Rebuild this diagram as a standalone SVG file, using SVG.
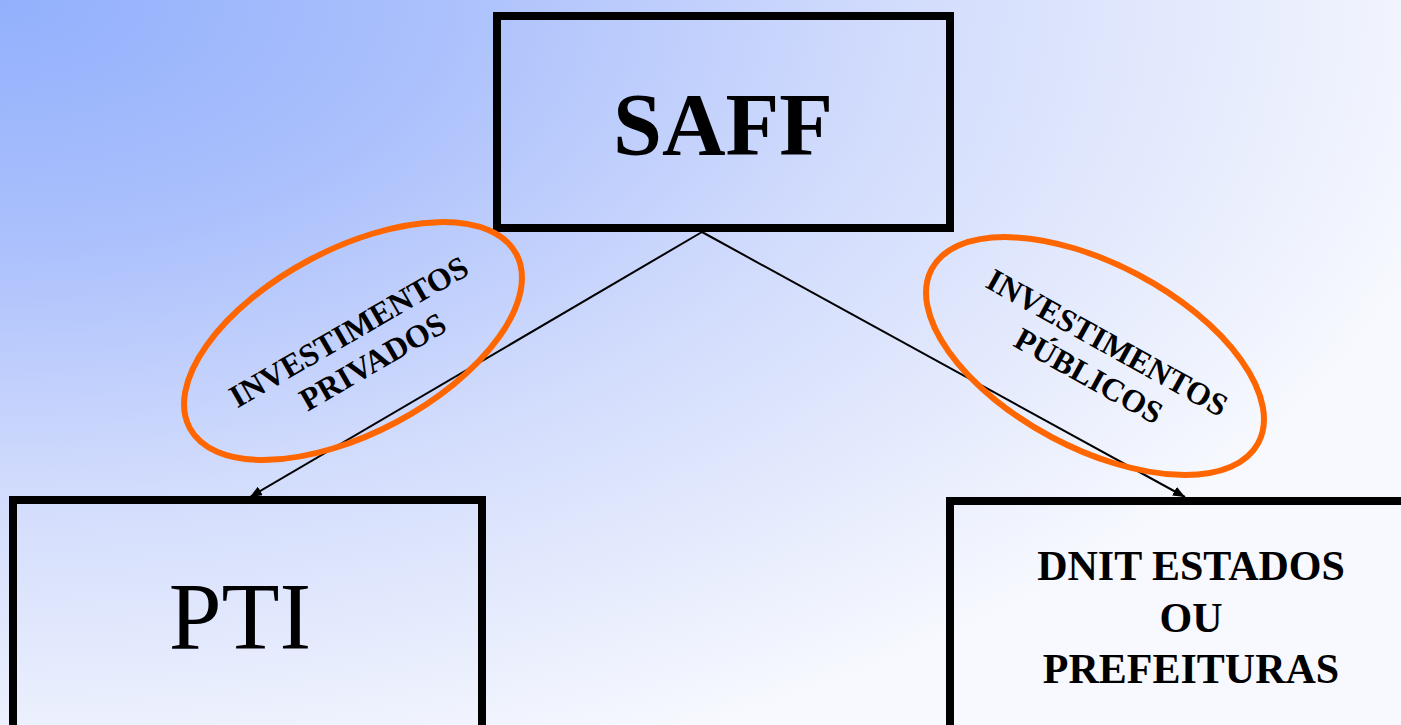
<svg xmlns="http://www.w3.org/2000/svg" width="1401" height="725" viewBox="0 0 1401 725">
<defs>
<radialGradient id="bg" gradientUnits="userSpaceOnUse" cx="0" cy="0" r="1500" gradientTransform="scale(1,0.55)">
<stop offset="0" stop-color="#92b0fc"/>
<stop offset="0.3" stop-color="#acc1fc"/>
<stop offset="0.6" stop-color="#d2dcfc"/>
<stop offset="1" stop-color="#f7f9fe"/>
</radialGradient>
<marker id="arr" viewBox="0 0 12 10" refX="12" refY="5" markerWidth="12" markerHeight="10" markerUnits="userSpaceOnUse" orient="auto">
<path d="M0,0 L12,5 L0,10 Z" fill="#000"/>
</marker>
</defs>
<style>
.box{fill:none;stroke:#000;stroke-width:8}
.ell{fill:none;stroke:#ff6600;stroke-width:6}
.conn{stroke:#000;stroke-width:2;fill:none}
.lbl{font-family:"Liberation Serif","Times New Roman",serif;font-weight:bold;font-size:32px;fill:#000;text-anchor:middle}
.big{font-family:"Liberation Serif","Times New Roman",serif;fill:#000;text-anchor:middle}
</style>
<rect x="0" y="0" width="1401" height="725" fill="url(#bg)"/>
<g id="connectors">
<line class="conn" x1="702" y1="232" x2="250" y2="497" marker-end="url(#arr)"/>
<line class="conn" x1="702" y1="232" x2="1185" y2="497" marker-end="url(#arr)"/>
</g>
<g id="saff">
<rect class="box" x="497" y="16" width="453" height="212"/>
<text class="big" x="723" y="154" font-size="88" font-weight="bold">SAFF</text>
</g>
<g id="pti">
<rect class="box" x="13" y="500" width="469" height="235"/>
<text class="big" x="240" y="649" font-size="95">PTI</text>
</g>
<g id="dnit">
<rect class="box" x="950" y="501" width="500" height="235"/>
<text class="big" x="1191" y="580" font-size="42" font-weight="bold">DNIT ESTADOS</text>
<text class="big" x="1191" y="632" font-size="42" font-weight="bold">OU</text>
<text class="big" x="1191" y="683" font-size="42" font-weight="bold">PREFEITURAS</text>
</g>
<g id="privados">
<ellipse class="ell" cx="353" cy="341" rx="185" ry="92" transform="rotate(-28 353 341)"/>
<g transform="translate(354 341) rotate(-30)">
<text class="lbl" x="0" y="0">INVESTIMENTOS</text>
<text class="lbl" x="6" y="38">PRIVADOS</text>
</g>
</g>
<g id="publicos">
<ellipse class="ell" cx="1095" cy="356" rx="185" ry="92" transform="rotate(28 1095 356)"/>
<g transform="translate(1102 352) rotate(29)">
<text class="lbl" x="0" y="0">INVESTIMENTOS</text>
<text class="lbl" x="0" y="38">PÚBLICOS</text>
</g>
</g>
</svg>
